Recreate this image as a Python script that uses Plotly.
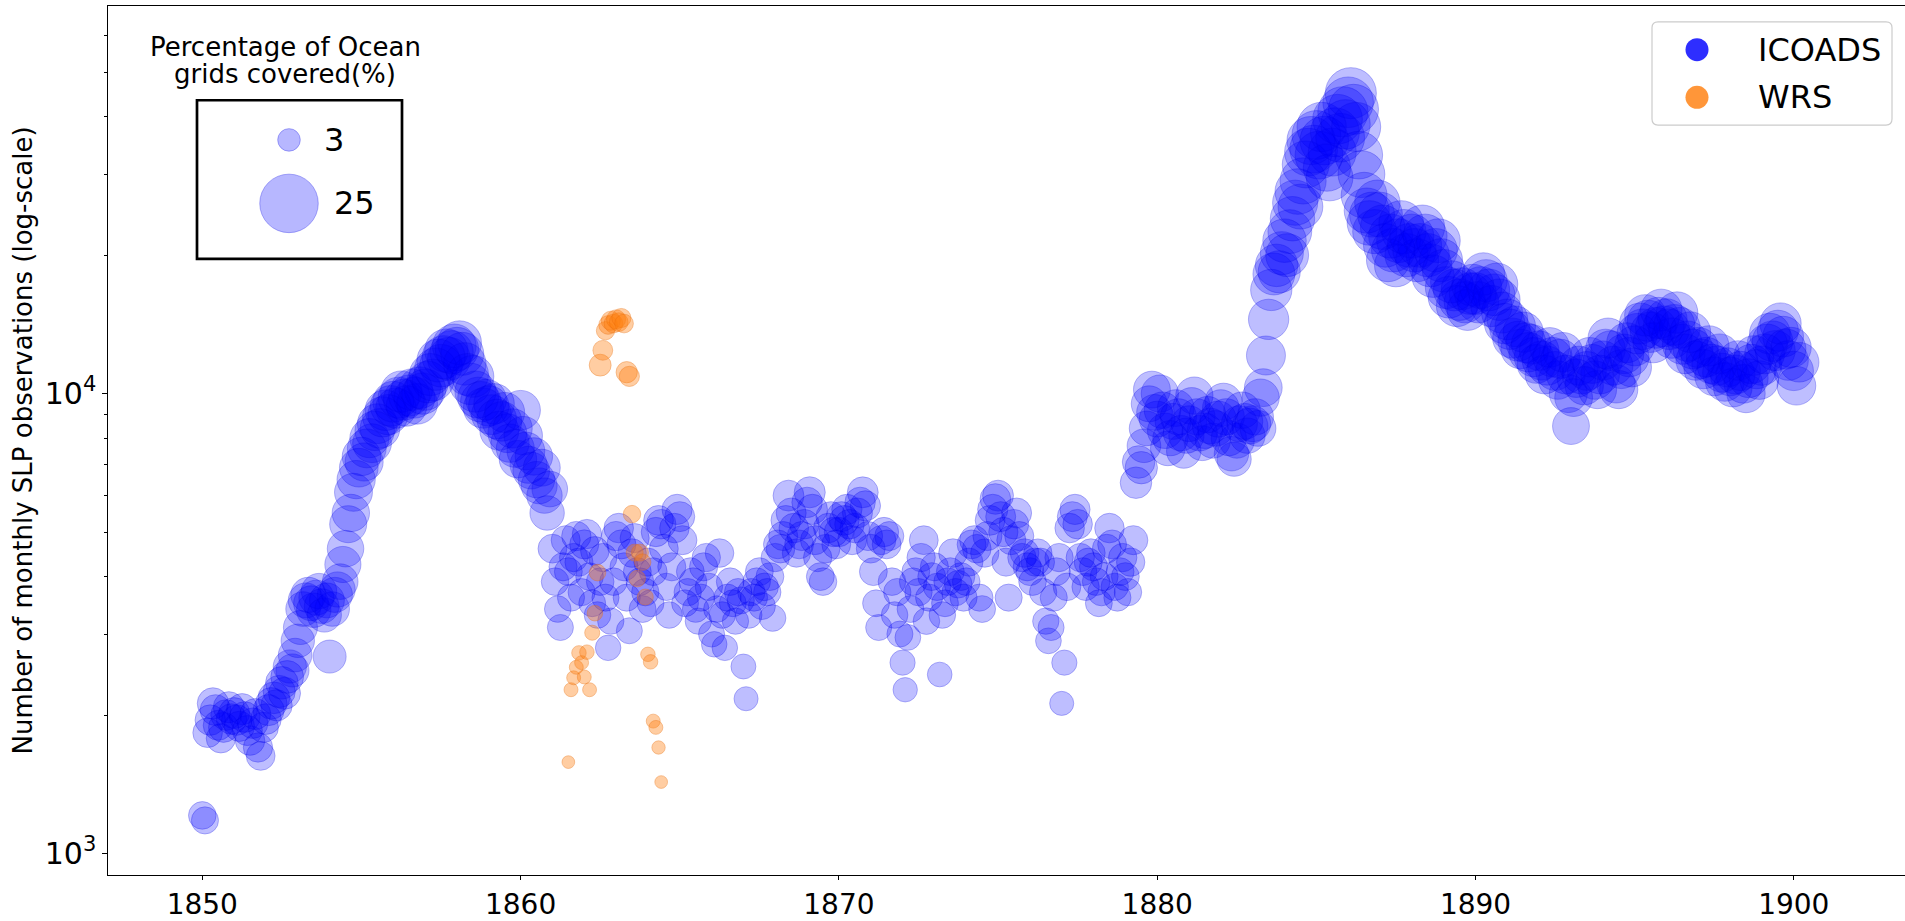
import plotly.graph_objects as go
import numpy as np

# ---------------- data ----------------
icoads_start_year = 1850          # monthly series, first value = Jan 1850
icoads_obs = [
    1210, 1180, 1830, 1950, 2120, 2050, 1900, 1780, 1880, 2000, 2080, 1960,      # 1850
    2020, 1950, 1890, 2060, 1980, 1850, 1760, 1920, 2010, 1700, 1630, 1880,      # 1851
    1960, 2050, 2120, 2180, 2100, 2250, 2350, 2230, 2420, 2550, 2500, 2700,      # 1852
    2900, 3100, 3400, 3550, 3650, 3500, 3380, 3600, 3720, 3450, 3300, 3550,      # 1853
    2680, 3400, 3650, 3750, 3900, 4250, 4600, 5200, 5500, 6100, 6500, 6900,      # 1854
    7300, 7100, 7600, 8000, 7800, 8300, 8600, 8400, 8900, 9200, 9000, 9400,      # 1855
    9600, 9300, 9800, 10100, 9700, 9400, 9900, 10200, 9800, 9500, 10300, 10000,  # 1856
    10200, 10600, 11000, 10700, 11300, 11800, 11500, 12000, 12400, 11900, 12300, 12700,  # 1857
    12500, 12900, 12200, 11600, 11000, 10500, 10900, 10100, 9800, 9600, 9300, 9700,  # 1858
    9400, 9000, 9500, 8800, 8300, 8700, 9100, 8200, 7800, 8400, 7600, 7200,      # 1859
    9200, 8100, 7500, 7000, 6800, 7300, 6500, 6300, 6900, 6000, 5500, 6200,      # 1860
    4600, 3900, 3400, 3100, 4200, 4800, 4100, 3600, 4400, 4900, 4300, 3700,      # 1861
    4700, 4950, 4000, 3500, 4550, 3300, 3900, 4400, 3600, 2800, 3200, 3900,      # 1862
    4900, 5100, 4700, 4200, 3600, 3050, 4500, 4850, 4100, 3900, 3400, 3700,      # 1863
    4300, 3500, 4100, 5000, 5300, 5200, 4600, 3800, 3300, 4200, 5100, 5600,      # 1864
    5400, 4800, 3500, 3700, 4100, 3900, 3400, 3200, 3600, 4200, 4400, 3800,      # 1865
    3000, 2850, 3400, 4500, 3300, 2800, 3600, 3900, 3500, 3200, 3700, 3550,      # 1866
    2550, 2170, 3300, 3700, 3600, 3900, 4100, 3450, 3800, 3700, 4000, 3250,      # 1867
    4400, 4700, 4600, 4900, 5300, 6000, 5500, 5100, 4500, 4700, 4900, 5200,      # 1868
    5800, 6100, 5600, 4800, 4400, 4000, 3900, 4600, 5100, 5400, 5000, 4700,      # 1869
    5000, 5400, 5300, 5600, 5200, 4800, 5100, 5500, 5800, 6100, 5700, 4900,      # 1870
    4600, 4100, 3500, 3100, 4800, 5000, 4700, 4900, 3900, 3300, 3700, 3000,      # 1871
    2600, 2270, 2950, 3400, 3900, 4100, 3700, 4400, 4800, 3200, 3600, 4000,      # 1872
    4200, 3800, 2450, 3300, 3500, 3900, 4100, 4500, 3700, 3850, 4000, 3600,      # 1873
    3900, 4300, 4700, 4800, 4600, 3600, 3400, 4500, 4900, 5300, 5600, 5900,      # 1874
    6000, 5400, 5000, 4300, 3600, 4800, 5200, 5500, 4900, 4400, 4500, 4200,      # 1875
    4100, 3900, 4300, 4500, 4300, 3700, 3200, 2900, 3100, 3600, 4100, 4400,      # 1876
    2120, 2600, 3800, 5100, 5400, 5600, 5200, 4400, 4100, 3800, 4300, 4500,      # 1877
    4200, 3900, 3500, 3700, 4000, 4600, 5100, 4700, 3800, 3600, 4100, 4400,      # 1878
    4000, 3700, 4300, 4800, 6400, 7100, 6900, 7700, 8400, 9500, 10200, 9100,     # 1879
    8800, 10000, 9200, 8300, 7600, 8000, 8700, 9300, 8900, 8200, 7500, 8100,     # 1880
    8600, 9400, 9900, 8900, 8200, 7800, 8300, 9000, 8500, 7900, 8400, 8800,      # 1881
    9300, 9600, 8900, 8000, 7400, 7200, 7900, 8600, 9200, 8700, 8100, 8500,      # 1882
    8600, 8900, 8400, 9800, 10300, 12100, 14500, 16800, 18200, 19000, 18400, 20200,  # 1883
    21500, 20000, 22500, 24000, 26000, 27500, 25500, 29000, 31500, 33500, 35500, 34000,  # 1884
    36500, 33000, 38000, 35500, 31000, 29500, 33500, 37000, 39500, 36000, 41000, 38500,  # 1885
    43000, 45000, 41500, 38000, 33000, 30000, 27000, 25000, 23500, 24500, 22500, 26000,  # 1886
    24500, 23000, 21000, 19500, 22000, 20500, 19000, 21500, 23500, 22500, 20000, 21000,  # 1887
    22000, 20500, 19500, 21000, 23000, 22000, 20000, 19000, 18000, 20500, 21500, 19500,  # 1888
    18500, 17000, 16200, 17500, 16800, 15500, 16000, 16900, 15800, 15200, 16500, 17200,  # 1889
    16500, 15800, 17000, 18200, 17600, 16800, 15500, 16400, 17300, 16000, 15000, 14200,  # 1890
    14500, 13800, 13200, 14000, 13000, 12500, 13600, 12900, 12300, 12800, 12000, 11600,  # 1891
    12400, 11800, 11000, 11500, 12600, 12000, 11200, 10700, 11900, 12300, 11000, 10000,  # 1892
    8500, 9800, 10800, 11500, 11000, 10400, 11200, 12000, 11600, 10700, 10200, 11000,   # 1893
    11800, 12500, 13200, 12400, 11500, 10500, 10200, 11300, 12200, 12900, 12000, 11400,  # 1894
    12700, 13500, 14200, 13800, 14800, 14400, 13600, 12900, 13900, 14600, 15200, 14000,  # 1895
    14500, 13800, 13200, 14100, 15000, 13900, 12800, 12200, 13000, 13600, 12500, 11800,  # 1896
    12600, 11900, 11300, 12000, 12700, 11600, 10900, 11500, 12200, 11100, 10600, 11400,  # 1897
    10900, 10300, 11000, 11800, 11200, 10500, 10000, 10800, 11600, 12100, 11300, 10700,  # 1898
    11500, 12200, 12800, 13500, 13000, 12400, 13700, 14200, 13300, 12500, 11800, 12600,  # 1899
    11200, 10400, 11700,                                                                 # 1900
]
# percentage of ocean grids covered (bubble size)
icoads_cov = [
    4.8, 4.6, 5.6, 6.0, 6.4, 6.2, 5.8, 5.5, 5.8, 6.1, 6.3, 6.0,   # 1850
    6.2, 6.0, 5.9, 6.3, 6.1, 5.8, 5.6, 6.0, 6.2, 5.5, 5.3, 5.9,   # 1851
    6.1, 6.3, 6.5, 6.6, 6.4, 6.8, 7.0, 6.7, 7.1, 7.3, 7.2, 7.5,   # 1852
    7.4, 7.7, 8.0, 8.2, 8.3, 8.1, 7.9, 8.2, 8.4, 8.0, 7.8, 8.1,   # 1853
    7.2, 7.9, 8.2, 8.3, 8.5, 8.8, 9.0, 9.3, 9.5, 9.8, 10.0, 10.2,  # 1854
    10.1, 9.9, 10.3, 10.5, 10.3, 10.7, 10.9, 10.8, 11.1, 11.3, 11.1, 11.4,  # 1855
    11.5, 11.2, 11.6, 11.8, 11.5, 11.3, 11.7, 11.9, 11.6, 11.4, 12.0, 11.8,  # 1856
    11.8, 12.0, 12.3, 12.1, 12.5, 12.8, 12.6, 12.9, 13.1, 12.8, 13.0, 13.3,  # 1857
    13.1, 13.4, 12.9, 12.5, 12.2, 11.9, 12.2, 11.7, 11.5, 11.3, 11.1, 11.4,  # 1858
    11.2, 10.9, 11.3, 10.8, 10.4, 10.7, 11.0, 10.3, 10.0, 10.5, 9.8, 9.5,    # 1859
    10.8, 10.1, 9.7, 9.3, 9.1, 9.5, 8.9, 8.7, 9.2, 8.4, 7.9, 8.5,     # 1860
    5.3, 4.8, 4.4, 4.2, 5.0, 5.4, 4.9, 4.6, 5.1, 5.5, 5.0, 4.6,     # 1861
    5.4, 5.5, 4.8, 4.5, 5.2, 4.4, 4.8, 5.1, 4.6, 4.0, 4.3, 4.8,     # 1862
    5.5, 5.6, 5.4, 5.0, 4.6, 4.2, 5.2, 5.4, 4.9, 4.8, 4.5, 4.7,     # 1863
    5.0, 4.5, 4.9, 5.5, 5.7, 5.6, 5.3, 4.7, 4.4, 5.0, 5.6, 5.9,     # 1864
    5.8, 5.4, 4.5, 4.7, 4.9, 4.8, 4.4, 4.3, 4.6, 5.0, 5.1, 4.7,     # 1865
    4.2, 4.0, 4.4, 5.2, 4.4, 4.0, 4.6, 4.8, 4.5, 4.3, 4.7, 4.6,     # 1866
    3.8, 3.5, 4.4, 4.7, 4.6, 4.8, 4.9, 4.5, 4.8, 4.7, 4.9, 4.4,     # 1867
    5.1, 5.3, 5.2, 5.4, 5.7, 6.2, 5.8, 5.6, 5.1, 5.3, 5.4, 5.6,     # 1868
    6.0, 6.3, 5.9, 5.4, 5.1, 4.9, 4.8, 5.2, 5.6, 5.8, 5.5, 5.3,     # 1869
    5.5, 5.8, 5.7, 5.9, 5.6, 5.4, 5.6, 5.8, 6.0, 6.2, 5.9, 5.4,     # 1870
    5.3, 4.9, 4.5, 4.2, 5.4, 5.5, 5.3, 5.4, 4.8, 4.4, 4.7, 4.2,     # 1871
    3.9, 3.6, 4.1, 4.5, 4.8, 4.9, 4.7, 5.1, 5.3, 4.4, 4.6, 4.9,     # 1872
    5.0, 4.7, 3.7, 4.4, 4.5, 4.8, 4.9, 5.2, 4.7, 4.8, 4.9, 4.6,     # 1873
    4.8, 5.0, 5.3, 5.4, 5.2, 4.6, 4.5, 5.1, 5.4, 5.7, 5.9, 6.1,     # 1874
    6.2, 5.8, 5.5, 5.0, 4.6, 5.4, 5.6, 5.8, 5.4, 5.1, 5.2, 5.0,     # 1875
    4.9, 4.8, 5.0, 5.1, 5.0, 4.7, 4.3, 4.1, 4.2, 4.6, 4.9, 5.1,     # 1876
    3.5, 3.9, 4.8, 5.6, 5.8, 5.9, 5.6, 5.1, 4.9, 4.7, 5.0, 5.2,     # 1877
    5.0, 4.8, 4.5, 4.7, 4.9, 5.3, 5.6, 5.3, 4.7, 4.6, 4.9, 5.1,     # 1878
    4.9, 4.7, 5.1, 5.4, 6.5, 7.0, 6.9, 7.5, 8.0, 8.7, 9.2, 8.6,     # 1879
    8.6, 9.4, 9.0, 8.4, 8.0, 8.3, 8.7, 9.1, 8.8, 8.4, 7.9, 8.3,     # 1880
    8.6, 9.1, 9.4, 8.8, 8.4, 8.1, 8.4, 8.9, 8.6, 8.2, 8.5, 8.8,     # 1881
    9.1, 9.3, 8.9, 8.3, 7.9, 7.8, 8.2, 8.7, 9.0, 8.7, 8.4, 8.6,     # 1882
    8.7, 8.9, 8.6, 9.4, 9.7, 10.4, 11.2, 11.8, 12.2, 12.5, 12.3, 12.9,   # 1883
    13.2, 12.8, 13.4, 13.8, 14.3, 14.6, 14.1, 15.0, 15.6, 16.1, 16.5, 16.2,  # 1884
    16.9, 16.2, 17.3, 16.8, 15.8, 15.4, 16.3, 17.0, 17.6, 16.9, 18.0, 17.4,  # 1885
    18.3, 18.7, 17.9, 17.2, 16.1, 15.5, 14.8, 14.3, 13.9, 14.2, 13.6, 14.5,  # 1886
    14.1, 13.8, 13.3, 12.9, 13.5, 13.2, 12.8, 13.4, 13.9, 13.7, 13.0, 13.3,  # 1887
    13.5, 13.1, 12.9, 13.3, 13.8, 13.5, 13.0, 12.8, 12.5, 13.1, 13.4, 12.9,  # 1888
    12.6, 12.2, 12.0, 12.3, 12.1, 11.7, 11.9, 12.1, 11.8, 11.6, 12.0, 12.2,  # 1889
    12.0, 11.8, 12.2, 12.5, 12.3, 12.1, 11.7, 12.0, 12.3, 11.9, 11.6, 11.3,  # 1890
    11.4, 11.2, 11.0, 11.3, 10.9, 10.7, 11.1, 10.9, 10.6, 10.8, 10.5, 10.3,  # 1891
    10.7, 10.5, 10.2, 10.4, 10.8, 10.6, 10.3, 10.1, 10.5, 10.7, 10.2, 9.8,   # 1892
    9.2, 9.7, 10.1, 10.4, 10.2, 10.0, 10.3, 10.6, 10.4, 10.1, 9.9, 10.2,     # 1893
    10.5, 10.8, 11.1, 10.8, 10.4, 10.0, 9.9, 10.3, 10.7, 11.0, 10.6, 10.4,   # 1894
    11.0, 11.3, 11.6, 11.4, 11.8, 11.7, 11.3, 11.1, 11.5, 11.8, 12.0, 11.5,  # 1895
    11.7, 11.4, 11.2, 11.5, 11.9, 11.5, 11.0, 10.8, 11.2, 11.4, 10.9, 10.6,  # 1896
    11.0, 10.7, 10.5, 10.8, 11.1, 10.6, 10.3, 10.6, 10.9, 10.4, 10.2, 10.5,  # 1897
    10.3, 10.1, 10.4, 10.7, 10.5, 10.2, 10.0, 10.3, 10.6, 10.8, 10.5, 10.2,  # 1898
    10.6, 10.9, 11.2, 11.5, 11.3, 11.0, 11.6, 11.8, 11.4, 11.1, 10.8, 11.1,  # 1899
    10.6, 10.2, 10.8,                                                         # 1900
]

wrs_start_year = 1861
wrs_start_month = 7               # monthly series, first value = Jul 1861
wrs_obs = [
    1580, 2270, 2410, 2540, 2730, 2600,                                          # 1861 Jul-Dec
    2420, 2740, 2270, 3020, 3330, 4080, 11530, 12420, 13700, 14100, 14400, 14200,  # 1862
    14500, 14300, 14600, 14200, 11130, 10900, 5470, 4510, 3960, 4510, 4300, 3610,  # 1863
    2710, 2610, 1940, 1880, 1700, 1430,                                          # 1864 Jan-Jun
]
wrs_cov = [
    0.7, 0.9, 0.9, 0.9, 1.0, 0.9,
    0.9, 1.0, 0.9, 1.1, 1.2, 1.4, 2.8, 2.2, 1.8, 1.9, 2.0, 1.9,
    2.0, 1.9, 2.0, 1.9, 2.6, 2.3, 1.6, 1.5, 1.4, 1.5, 1.4, 1.3,
    1.0, 1.0, 0.9, 0.9, 0.8, 0.7,
]

series_names = ["ICOADS", "WRS"]
size_legend_pcts = [3, 25]
size_legend_title = ["Percentage of Ocean", "grids covered(%)"]
x_tick_years = [1850, 1860, 1870, 1880, 1890, 1900]
y_major = [1000, 10000]
y_minor = [2000, 3000, 4000, 5000, 6000, 7000, 8000, 9000,
           20000, 30000, 40000, 50000, 60000]
y_title = "Number of monthly SLP observations (log-scale)"

# ---------------- helpers ----------------
FONT = "DejaVu Sans"
BLUE_FILL = "rgba(0,0,255,0.36)"
BLUE_LINE = "rgba(0,0,230,0.40)"
ORANGE_FILL = "rgba(255,127,14,0.55)"
ORANGE_LINE = "rgba(235,110,10,0.55)"


def month_positions(year0, month0, n):
    return [year0 + (month0 - 1 + i) / 12.0 for i in range(n)]


def bubble_diameter(pcts):
    # pixel diameter of a bubble for a coverage percentage
    return [11.0 * np.sqrt(p) + 3.5 for p in pcts]


x_icoads = month_positions(icoads_start_year, 1, len(icoads_obs))
x_wrs = month_positions(wrs_start_year, wrs_start_month, len(wrs_obs))

fig = go.Figure()

fig.add_trace(go.Scatter(
    x=x_icoads, y=icoads_obs, mode="markers", name=series_names[0],
    marker=dict(size=bubble_diameter(icoads_cov), sizemode="diameter",
                color=BLUE_FILL, line=dict(color=BLUE_LINE, width=1)),
    showlegend=False,
))
fig.add_trace(go.Scatter(
    x=x_wrs, y=wrs_obs, mode="markers", name=series_names[1],
    marker=dict(size=bubble_diameter(wrs_cov), sizemode="diameter",
                color=ORANGE_FILL, line=dict(color=ORANGE_LINE, width=1)),
    showlegend=False,
))

# ---- overlay pixel axes (plot-area pixels) for the legends ----
PX_L, PX_R, PX_T, PX_B = 108, 1905, 6, 882

# series legend (top right)
leg_x0, leg_x1, leg_y0, leg_y1, rad = 1652, 1892, 22, 126, 6
leg_path = (f"M {leg_x0+rad},{leg_y0} L {leg_x1-rad},{leg_y0} Q {leg_x1},{leg_y0} {leg_x1},{leg_y0+rad} "
            f"L {leg_x1},{leg_y1-rad} Q {leg_x1},{leg_y1} {leg_x1-rad},{leg_y1} "
            f"L {leg_x0+rad},{leg_y1} Q {leg_x0},{leg_y1} {leg_x0},{leg_y1-rad} "
            f"L {leg_x0},{leg_y0+rad} Q {leg_x0},{leg_y0} {leg_x0+rad},{leg_y0} Z")
fig.add_shape(type="path", path=leg_path, xref="x2", yref="y2",
              line=dict(color="#cccccc", width=1.2), fillcolor="rgba(255,255,255,0.8)",
              layer="below")
leg_rows = [50, 98]
fig.add_trace(go.Scatter(
    x=[1697, 1697], y=leg_rows, xaxis="x2", yaxis="y2", mode="markers",
    marker=dict(size=23, color=["rgba(0,0,255,0.82)", "rgba(255,127,14,0.82)"],
                line=dict(width=0)),
    showlegend=False, hoverinfo="skip",
))
for name, yy in zip(series_names, leg_rows):
    fig.add_annotation(x=1756, y=yy, xref="x2", yref="y2", text=name, showarrow=False,
                       xanchor="left", yanchor="middle", font=dict(size=32, family=FONT, color="black"))

# size legend (top left)
fig.add_shape(type="rect", x0=197, x1=402, y0=101, y1=261, xref="x2", yref="y2",
              line=dict(color="black", width=2.7), fillcolor="rgba(0,0,0,0)", layer="below")
size_rows = [141, 205]
fig.add_trace(go.Scatter(
    x=[289, 289], y=size_rows, xaxis="x2", yaxis="y2", mode="markers",
    marker=dict(size=bubble_diameter(size_legend_pcts), sizemode="diameter",
                color="rgba(0,0,255,0.40)", line=dict(color="rgba(0,0,230,0.45)", width=1)),
    showlegend=False, hoverinfo="skip",
))
for p, yy, xx in zip(size_legend_pcts, size_rows, [322, 332]):
    fig.add_annotation(x=xx, y=yy, xref="x2", yref="y2", text=str(p), showarrow=False,
                       xanchor="left", yanchor="middle", font=dict(size=32, family=FONT, color="black"))
for line_txt, yy in zip(size_legend_title, [47, 75]):
    fig.add_annotation(x=285, y=yy, xref="x2", yref="y2", text=line_txt, showarrow=False,
                       xanchor="center", yanchor="middle", font=dict(size=26, family=FONT, color="black"))

# y axis title
fig.add_annotation(x=(22 - PX_L) / (PX_R - PX_L), y=0.5, xref="paper", yref="paper",
                   text=y_title, textangle=-90, showarrow=False,
                   xanchor="center", yanchor="middle", font=dict(size=26, family=FONT, color="black"))

y_ticktext = [f"10<sup>{int(round(np.log10(v)))}</sup>" for v in y_major]

x_lo = 1850 - (202.3 - PX_L) / 31.83
x_hi = 1850 + (PX_R - 202.3) / 31.83
y_lo = 3 - (PX_B - 860.3) / 463.6
y_hi = 4 + (396.7 - PX_T) / 463.6

fig.update_layout(
    width=1905, height=921,
    margin=dict(l=PX_L, r=1905 - PX_R, t=PX_T, b=921 - PX_B, pad=0),
    paper_bgcolor="white", plot_bgcolor="white",
    showlegend=False,
    font=dict(family=FONT, color="black"),
    xaxis=dict(range=[x_lo, x_hi], tickvals=x_tick_years, ticktext=[str(v) for v in x_tick_years],
               ticks="outside", ticklen=4, tickwidth=1, tickcolor="black",
               showline=True, linecolor="black", linewidth=1.3, mirror=True,
               showgrid=False, zeroline=False, tickfont=dict(size=28, family=FONT, color="black")),
    yaxis=dict(type="log", range=[y_lo, y_hi], tickvals=y_major, ticktext=y_ticktext,
               ticks="outside", ticklen=4.5, tickwidth=1, tickcolor="black",
               minor=dict(tickvals=y_minor, ticks="outside", ticklen=3, tickwidth=1,
                          tickcolor="black", showgrid=False),
               showline=True, linecolor="black", linewidth=1.3, mirror=False,
               showgrid=False, zeroline=False, tickfont=dict(size=30, family=FONT, color="black")),
    xaxis2=dict(overlaying="x", range=[PX_L, PX_R], visible=False, showgrid=False, zeroline=False),
    yaxis2=dict(overlaying="y", range=[PX_B, PX_T], visible=False, showgrid=False, zeroline=False),
)

fig.write_html("out.html", config={"displayModeBar": False},
               post_script="document.body.style.margin='0';document.body.style.overflow='hidden';")
